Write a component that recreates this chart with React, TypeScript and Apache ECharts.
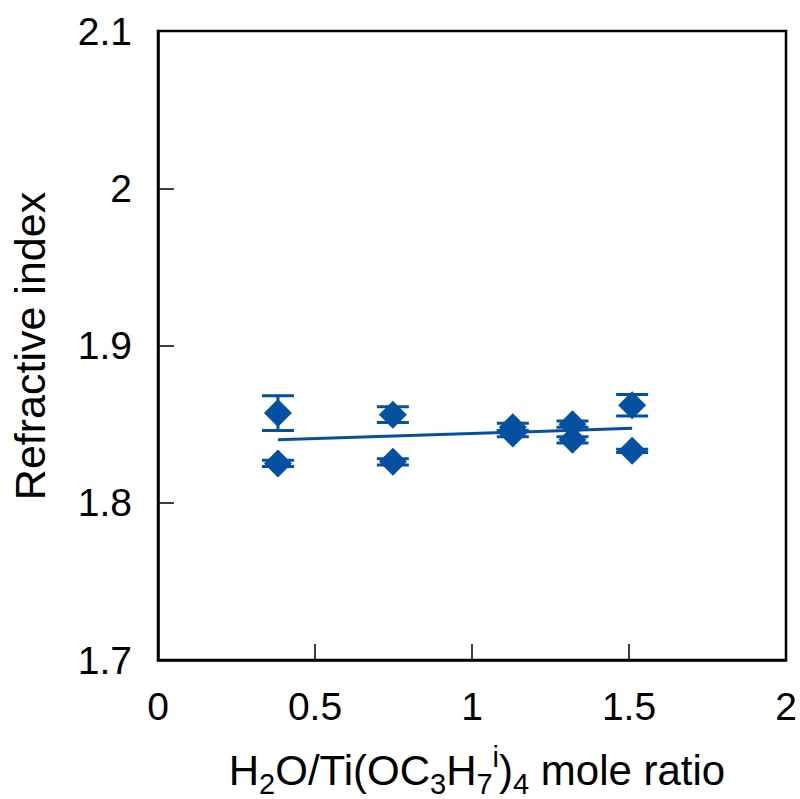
import React, { useEffect, useRef } from "react";
import * as echarts from "echarts";

const xValues = [0.382, 0.748, 1.13, 1.32, 1.51];
const upperY = [1.857, 1.856, 1.848, 1.850, 1.862];
const upperErr = [0.011, 0.005, 0.0025, 0.002, 0.0068];
const lowerY = [1.825, 1.826, 1.844, 1.840, 1.833];
const lowerErr = [0.002, 0.002, 0.002, 0.002, 0.001];
const trendX = [0.382, 1.51];
const trendY = [1.840, 1.8473];
const xTicks = [0, 0.5, 1, 1.5, 2];
const yTicks = [1.7, 1.8, 1.9, 2.0, 2.1];

const BLUE = "#0550A0";
const FONT = "Liberation Sans, Arial, sans-serif";

export default function App() {
  const ref = useRef<HTMLDivElement>(null);
  useEffect(() => {
    if (!ref.current) return;
    const chart = echarts.init(ref.current, undefined, { renderer: "svg" });
    const points = [
      ...xValues.map((x, i) => [x, upperY[i], upperErr[i]]),
      ...xValues.map((x, i) => [x, lowerY[i], lowerErr[i]]),
    ];
    chart.setOption({
      animation: false,
      grid: {
        left: 158,
        top: 31,
        right: 14,
        bottom: 139,
        show: true,
        borderColor: "#000",
        borderWidth: 2.5,
      },
      xAxis: {
        type: "value",
        min: xTicks[0],
        max: xTicks[xTicks.length - 1],
        interval: 0.5,
        axisLine: { show: true, lineStyle: { color: "#000", width: 2.5 } },
        axisTick: { show: true, inside: true, length: 16, lineStyle: { color: "#000", width: 1.5 } },
        splitLine: { show: false },
        axisLabel: {
          color: "#000",
          fontFamily: FONT,
          fontSize: 39,
          margin: 27,
          formatter: (v: number) => String(v),
        },
      },
      yAxis: {
        type: "value",
        min: yTicks[0],
        max: yTicks[yTicks.length - 1],
        interval: 0.1,
        axisLine: { show: true, lineStyle: { color: "#000", width: 2.5 } },
        axisTick: { show: true, inside: true, length: 16, lineStyle: { color: "#000", width: 1.5 } },
        splitLine: { show: false },
        axisLabel: {
          color: "#000",
          fontFamily: FONT,
          fontSize: 39,
          margin: 26,
          formatter: (v: number) => String(Math.round(v * 10) / 10),
        },
      },
      graphic: [
        {
          type: "text",
          x: 30,
          y: 346,
          rotation: Math.PI / 2,
          style: {
            text: "Refractive index",
            fill: "#000",
            font: `43px ${FONT}`,
            align: "center",
            verticalAlign: "middle",
          },
        },
        {
          type: "text",
          x: 477,
          y: 770,
          style: {
            text: "{a|H}{s|2}{a|O/Ti(OC}{s|3}{a|H}{s|7}{p|i}{a|)}{s|4}{a| mole ratio}",
            align: "center",
            verticalAlign: "middle",
            rich: {
              a: { fontFamily: FONT, fontSize: 42, lineHeight: 56, verticalAlign: "middle", fill: "#000" },
              s: { fontFamily: FONT, fontSize: 29, lineHeight: 29, verticalAlign: "bottom", fill: "#000" },
              p: { fontFamily: FONT, fontSize: 29, lineHeight: 29, verticalAlign: "top", fill: "#000" },
            },
          },
        },
      ],
      series: [
        {
          type: "line",
          data: trendX.map((x, i) => [x, trendY[i]]),
          symbol: "none",
          lineStyle: { color: BLUE, width: 3 },
          z: 2,
        },
        {
          type: "custom",
          data: points,
          z: 3,
          renderItem: (params: any, api: any) => {
            const x = api.value(0);
            const y = api.value(1);
            const e = api.value(2);
            const top = api.coord([x, y + e]);
            const bot = api.coord([x, y - e]);
            const hw = 16;
            const style = { stroke: BLUE, lineWidth: 3 };
            return {
              type: "group",
              children: [
                { type: "line", shape: { x1: top[0], y1: top[1], x2: bot[0], y2: bot[1] }, style },
                { type: "line", shape: { x1: top[0] - hw, y1: top[1], x2: top[0] + hw, y2: top[1] }, style },
                { type: "line", shape: { x1: bot[0] - hw, y1: bot[1], x2: bot[0] + hw, y2: bot[1] }, style },
              ],
            };
          },
        },
        {
          type: "scatter",
          data: points.map((p) => [p[0], p[1]]),
          symbol: "diamond",
          symbolSize: 28,
          itemStyle: { color: BLUE, opacity: 1 },
          emphasis: { disabled: true },
          z: 4,
        },
      ],
    });
    return () => chart.dispose();
  }, []);
  return (
    <div
      ref={ref}
      style={{ position: "absolute", left: 0, top: 0, width: 800, height: 799 }}
    />
  );
}
